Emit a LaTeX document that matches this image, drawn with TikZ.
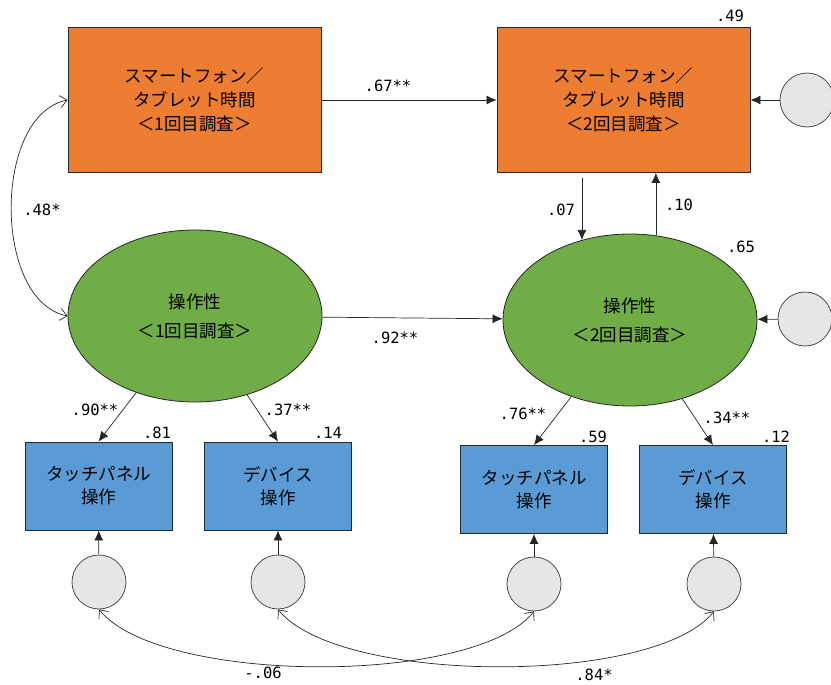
\documentclass[tikz,border=0pt]{standalone}
\usepackage{fontspec}
\setmainfont{Noto Sans CJK JP}
\newfontfamily\numfont{DejaVu Sans Mono}
\usetikzlibrary{arrows.meta,shapes.geometric}
\definecolor{timeorange}{HTML}{ED7D31}
\definecolor{opgreen}{HTML}{70AD47}
\definecolor{itemblue}{HTML}{5B9BD5}
\definecolor{errgray}{HTML}{E6E6E6}
\begin{document}
\begin{tikzpicture}[x=1pt,y=-1pt,
	timebox/.style={draw=black!85,line width=0.8pt,fill=timeorange,minimum width=253pt,minimum height=145pt,align=center,font=\fontsize{17.5}{24}\selectfont},
	opell/.style={ellipse,draw=black!85,line width=0.8pt,fill=opgreen,inner sep=0pt,minimum width=254pt,minimum height=172pt,align=center,font=\fontsize{17.5}{29}\selectfont},
	itembox/.style={draw=black!85,line width=0.8pt,fill=itemblue,minimum width=147pt,minimum height=88pt,align=center,font=\fontsize{17.5}{23}\selectfont},
	errc/.style={circle,draw=black!70,line width=0.8pt,fill=errgray,minimum size=54pt,inner sep=0pt},
	coef/.style={font=\numfont\fontsize{15.5}{15.5}\selectfont,inner sep=1pt},
	path/.style={line width=0.7pt,draw=black!85,-{Latex[length=10pt,width=9pt]}},
	cov/.style={line width=0.7pt,draw=black!85,{Straight Barb[length=7pt,width=12pt]}-{Straight Barb[length=7pt,width=12pt]}}]
	\useasboundingbox (0,0) rectangle (831,685);
	% observed time and latent operability
	\node[timebox] (sp1) at (194.5,100) {スマートフォン／\\タブレット時間\\＜1回目調査＞};
	\node[timebox] (sp2) at (623.5,100) {スマートフォン／\\タブレット時間\\＜2回目調査＞};
	\node[opell] (op1) at (195,316) {操作性\\＜1回目調査＞};
	\node[opell] (op2) at (630,320) {操作性\\＜2回目調査＞};
	% indicators
	\node[itembox] (tp1) at (98.5,486) {タッチパネル\\操作};
	\node[itembox] (dv1) at (278,486) {デバイス\\操作};
	\node[itembox] (tp2) at (534,489.5) {タッチパネル\\操作};
	\node[itembox] (dv2) at (713,489.5) {デバイス\\操作};
	% errors
	\node[errc] (e1) at (99,582) {};
	\node[errc] (e2) at (278,582) {};
	\node[errc] (e3) at (534,584) {};
	\node[errc] (e4) at (714,584) {};
	\node[errc] (esp) at (807,100) {};
	\node[errc] (eop) at (805,319) {};
	% paths
	\draw[path] (sp1) -- (sp2);
	\draw[path] (op1) -- (op2);
	\draw[path] (esp) -- (sp2);
	\draw[path] (eop) -- (op2);
	\path (sp2.south -| op2.121) coordinate (a07);
	\draw[path] ([yshift=-5pt]a07) -- (op2.121);
	\draw[path] (op2.73) -- (sp2.south -| op2.73);
	\draw[path] (op1) -- (tp1.north);
	\draw[path] (op1) -- (dv1.north);
	\draw[path] (op2) -- (tp2.north);
	\draw[path] (op2) -- (dv2.north);
	\draw[path] (e1) -- (tp1);
	\draw[path] (e2) -- (dv1);
	\draw[path] (e3) -- (tp2);
	\draw[path] (e4) -- (dv2);
	% covariances
	\draw[cov] (sp1.west) .. controls +(-75,15) and +(-75,-15) .. (op1.west);
	\draw[cov] (e1.south) .. controls +(60,75) and +(-60,75) .. (e3.south);
	\draw[cov] (e2.south) .. controls +(60,75) and +(-60,75) .. (e4.south);
	% coefficients
	\node[coef] (l67) at (388,86) {.67**};
	\node[coef] (l48) at (42,210) {.48*};
	\node[coef] (l49) at (730,16) {.49};
	\node[coef] (l07) at (561,210) {.07};
	\node[coef] (l10) at (679,205) {.10};
	\node[coef] (l92) at (395,338) {.92**};
	\node[coef] (l65) at (741,247) {.65};
	\node[coef] (l90) at (95,410) {.90**};
	\node[coef] (l37) at (288,410) {.37**};
	\node[coef] (l81) at (157,433) {.81};
	\node[coef] (l14) at (328,433) {.14};
	\node[coef] (l76) at (523,414) {.76**};
	\node[coef] (l34) at (727,418) {.34**};
	\node[coef] (l59) at (593,437) {.59};
	\node[coef] (l12) at (776,437) {.12};
	\node[coef] (l06) at (263,673) {-.06};
	\node[coef] (l84) at (594,675) {.84*};
\end{tikzpicture}
\end{document}
